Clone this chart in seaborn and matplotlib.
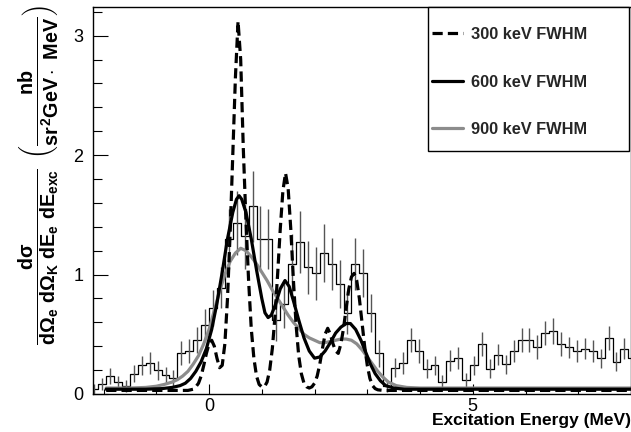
import numpy as np
import pandas as pd
import matplotlib
matplotlib.use('Agg')
import matplotlib.pyplot as plt
import seaborn as sns
from matplotlib.ticker import MultipleLocator, FixedLocator
from matplotlib.patches import Rectangle

# ---------------- data ----------------
bin_start = -2.25
bin_width = 0.15
counts = [0.04, 0.08, 0.15, 0.10, 0.07, 0.17, 0.24, 0.26, 0.20, 0.16,
          0.13, 0.34, 0.36, 0.45, 0.58, 0.72, 0.89, 1.30, 1.43, 1.32,
          1.57, 1.30, 1.30, 0.62, 0.75, 1.09, 1.27, 1.06, 1.01, 1.18,
          1.09, 0.92, 0.68, 1.09, 1.01, 0.68, 0.34, 0.07, 0.22, 0.26,
          0.45, 0.36, 0.21, 0.24, 0.10, 0.28, 0.30, 0.12, 0.24, 0.42,
          0.21, 0.33, 0.25, 0.36, 0.45, 0.45, 0.39, 0.51, 0.53, 0.42,
          0.39, 0.36, 0.38, 0.36, 0.30, 0.47, 0.27, 0.38, 0.30]
errors = [0.04, 0.05, 0.07, 0.05, 0.05, 0.07, 0.08, 0.09, 0.08, 0.07,
          0.07, 0.10, 0.10, 0.11, 0.13, 0.15, 0.17, 0.25, 0.27, 0.27,
          0.30, 0.27, 0.25, 0.18, 0.20, 0.25, 0.26, 0.22, 0.22, 0.24,
          0.22, 0.20, 0.18, 0.22, 0.20, 0.16, 0.11, 0.05, 0.08, 0.09,
          0.10, 0.10, 0.08, 0.08, 0.06, 0.09, 0.09, 0.06, 0.08, 0.10,
          0.08, 0.09, 0.08, 0.09, 0.10, 0.10, 0.10, 0.10, 0.11, 0.10,
          0.09, 0.09, 0.09, 0.09, 0.08, 0.10, 0.08, 0.09, 0.08]

curve_300 = [(-1.95, 0.03), (-1.0, 0.03), (-0.5, 0.03), (-0.4, 0.03), (-0.3, 0.04),
             (-0.25, 0.06), (-0.2, 0.09), (-0.15, 0.15), (-0.1, 0.24), (-0.05, 0.34),
             (0.0, 0.42), (0.05, 0.45), (0.1, 0.40), (0.15, 0.30), (0.2, 0.22),
             (0.25, 0.24), (0.3, 0.42), (0.35, 0.80), (0.4, 1.35), (0.45, 2.0),
             (0.5, 2.65), (0.55, 3.12), (0.6, 2.8), (0.65, 2.05), (0.7, 1.45),
             (0.75, 0.95), (0.8, 0.55), (0.85, 0.30), (0.9, 0.15), (0.95, 0.08),
             (1.0, 0.06), (1.05, 0.06), (1.1, 0.10), (1.15, 0.20), (1.2, 0.38),
             (1.25, 0.65), (1.3, 1.0), (1.35, 1.38), (1.4, 1.70), (1.45, 1.85),
             (1.5, 1.72), (1.55, 1.38), (1.6, 0.95), (1.65, 0.58), (1.7, 0.32),
             (1.75, 0.17), (1.8, 0.09), (1.85, 0.06), (1.9, 0.05), (1.95, 0.06),
             (2.0, 0.09), (2.05, 0.15), (2.1, 0.25), (2.15, 0.38), (2.2, 0.50),
             (2.25, 0.55), (2.3, 0.50), (2.35, 0.42), (2.4, 0.36), (2.45, 0.34),
             (2.5, 0.42), (2.55, 0.55), (2.6, 0.72), (2.65, 0.88), (2.7, 0.98),
             (2.75, 1.01), (2.8, 0.95), (2.85, 0.80), (2.9, 0.60), (2.95, 0.40),
             (3.0, 0.24), (3.05, 0.13), (3.1, 0.07), (3.15, 0.045), (3.2, 0.035),
             (3.3, 0.03), (4.0, 0.03), (8.0, 0.03)]

curve_600 = [(-1.95, 0.04), (-1.2, 0.04), (-0.9, 0.045), (-0.7, 0.055), (-0.55, 0.07),
             (-0.45, 0.09), (-0.35, 0.13), (-0.25, 0.19), (-0.15, 0.27), (-0.05, 0.38),
             (0.05, 0.54), (0.15, 0.76), (0.25, 1.02), (0.35, 1.30), (0.45, 1.52),
             (0.52, 1.63), (0.57, 1.66), (0.62, 1.63), (0.7, 1.52), (0.8, 1.30),
             (0.9, 1.04), (1.0, 0.80), (1.06, 0.68), (1.12, 0.64), (1.18, 0.66),
             (1.26, 0.75), (1.35, 0.88), (1.44, 0.95), (1.52, 0.90), (1.6, 0.78),
             (1.7, 0.62), (1.8, 0.47), (1.9, 0.36), (2.0, 0.30), (2.1, 0.31),
             (2.2, 0.36), (2.3, 0.43), (2.4, 0.51), (2.5, 0.56), (2.6, 0.59),
             (2.68, 0.59), (2.78, 0.54), (2.88, 0.45), (2.97, 0.35), (3.06, 0.25),
             (3.15, 0.17), (3.25, 0.11), (3.35, 0.07), (3.5, 0.05), (3.7, 0.04),
             (8.0, 0.04)]

curve_900 = [(-1.95, 0.05), (-1.5, 0.05), (-1.2, 0.055), (-1.0, 0.065), (-0.85, 0.08),
             (-0.7, 0.10), (-0.6, 0.12), (-0.5, 0.15), (-0.4, 0.19), (-0.3, 0.25),
             (-0.2, 0.32), (-0.1, 0.42), (0.0, 0.54), (0.1, 0.70), (0.2, 0.86),
             (0.3, 1.00), (0.4, 1.11), (0.5, 1.18), (0.6, 1.22), (0.7, 1.20),
             (0.8, 1.15), (0.9, 1.09), (1.0, 1.02), (1.1, 0.95), (1.2, 0.87),
             (1.3, 0.80), (1.4, 0.73), (1.5, 0.66), (1.6, 0.60), (1.7, 0.55),
             (1.8, 0.50), (1.9, 0.47), (2.0, 0.45), (2.1, 0.43), (2.2, 0.43),
             (2.3, 0.44), (2.4, 0.45), (2.5, 0.46), (2.6, 0.46), (2.7, 0.45),
             (2.8, 0.42), (2.9, 0.37), (3.0, 0.31), (3.1, 0.25), (3.2, 0.19),
             (3.3, 0.14), (3.4, 0.10), (3.55, 0.07), (3.75, 0.055), (4.0, 0.05),
             (8.0, 0.05)]

legend_labels = ['300 keV FWHM', '600 keV FWHM', '900 keV FWHM']
x_label = 'Excitation Energy (MeV)'
y_label = (r'$\frac{d\sigma}{d\Omega_{e}\ d\Omega_{K}\ dE_{e}\ dE_{exc}}'
           r'\ \left(\frac{nb}{sr^{2}GeV\cdot\ MeV}\right)$')
x_major = [0, 5]
y_major = [0, 1, 2, 3]

# ---------------- style ----------------
sns.set_theme(style='ticks')
plt.rcParams['font.family'] = ['Liberation Sans', 'DejaVu Sans']
plt.rcParams['mathtext.fontset'] = 'custom'
plt.rcParams['mathtext.rm'] = 'Liberation Sans:bold'
plt.rcParams['mathtext.it'] = 'Liberation Sans:bold'
plt.rcParams['mathtext.bf'] = 'Liberation Sans:bold'
plt.rcParams['mathtext.sf'] = 'Liberation Sans:bold'

W, H = 631, 432
fig = plt.figure(figsize=(W / 100, H / 100), dpi=100)
fig.patch.set_facecolor('white')
ax = fig.add_axes([93 / W, 1 - 394 / H, (W - 93) / W, (394 - 7) / H])
ax.set_facecolor('white')

# histogram
n = len(counts)
edges = bin_start + bin_width * np.arange(n + 1)
centers = edges[:-1] + bin_width / 2
hist_df = pd.DataFrame({'E': centers, 'w': counts})
sns.histplot(data=hist_df, x='E', weights='w', bins=n,
             binrange=(float(edges[0]), float(edges[-1])), element='step',
             fill=False, color='black', linewidth=0.9, ax=ax)
ax.errorbar(centers, counts, yerr=errors, fmt='none', ecolor='#555555',
            elinewidth=1.0, capsize=0, zorder=2)

# curves
def to_df(pairs):
    return pd.DataFrame(pairs, columns=['x', 'y'])

sns.lineplot(data=to_df(curve_900), x='x', y='y', color='#8c8c8c', linewidth=2.3,
             sort=False, estimator=None, ax=ax)
h900 = ax.lines[-1]
sns.lineplot(data=to_df(curve_600), x='x', y='y', color='black', linewidth=2.3,
             sort=False, estimator=None, ax=ax)
h600 = ax.lines[-1]
sns.lineplot(data=to_df(curve_300), x='x', y='y', color='black', linewidth=2.3,
             sort=False, estimator=None, ax=ax)
h300 = ax.lines[-1]
h300.set_linestyle((0, (3.2, 1.6)))

ax.set_xlim(-2.2, 8.0)
ax.set_ylim(0, 3.24)
ax.set_xlabel('')
ax.set_ylabel('')

ax.xaxis.set_major_locator(FixedLocator(x_major))
ax.xaxis.set_minor_locator(MultipleLocator(1))
ax.yaxis.set_major_locator(FixedLocator(y_major))
ax.yaxis.set_minor_locator(MultipleLocator(0.2))
ax.tick_params(axis='both', which='both', direction='in', top=False, right=False,
               colors='black', width=0.8, labelsize=13)
ax.tick_params(axis='x', which='major', length=7.5, pad=3)
ax.tick_params(axis='x', which='minor', length=3.6)
ax.tick_params(axis='y', which='major', length=11, pad=7)
ax.tick_params(axis='y', which='minor', length=6.5)
for s in ax.spines.values():
    s.set_color('black')
    s.set_linewidth(1.0)

# legend frame + legend
rect = Rectangle((428 / W, 1 - 151 / H), 201 / W, 144 / H, transform=fig.transFigure,
                 facecolor='white', edgecolor='black', linewidth=1.0, zorder=4)
fig.add_artist(rect)
leg = fig.legend([h300, h600, h900], legend_labels, loc='upper left',
                 bbox_to_anchor=(424 / W, 1 - 19 / H), frameon=False, borderpad=0,
                 handlelength=1.9, handletextpad=0.45, labelspacing=1.98,
                 prop={'weight': 'bold', 'size': 11.8})
leg.set_zorder(5)

# axis titles
fig.text(1.0, 1 - 421 / H, x_label, ha='right', va='center', fontsize=12.5,
         fontweight='bold', color='black')
fig.text(39 / W, 1 - 5 / H, y_label, rotation=90, ha='center', va='top',
         fontsize=20.3, color='black')

fig.savefig('out.png', dpi=100, facecolor='white')
